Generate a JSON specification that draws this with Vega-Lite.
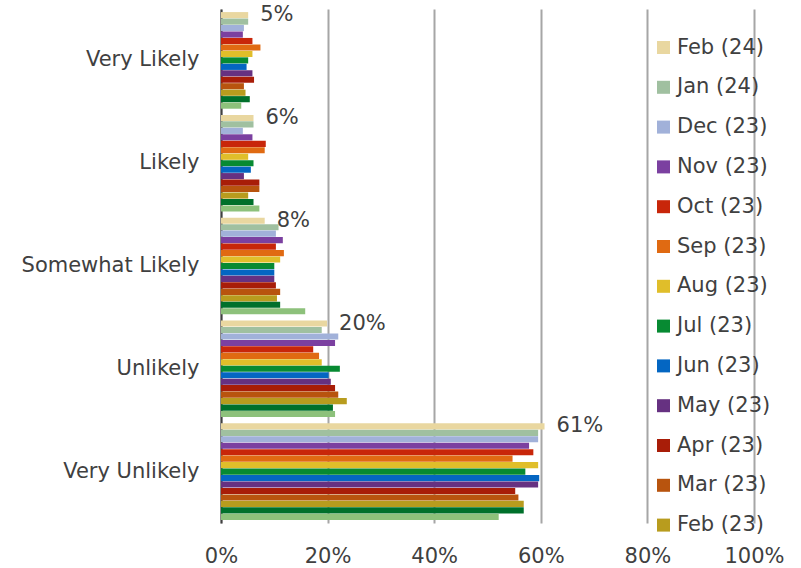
{
  "$schema": "https://vega.github.io/schema/vega-lite/v6.json",
  "autosize": {"type": "none"},
  "padding": {"left": 221, "top": 9, "right": 47, "bottom": 45},
  "width": 533,
  "height": 514,
  "background": "white",
  "config": {
    "font": "DejaVu Sans",
    "view": {"stroke": null}
  },
  "data": {
    "values": [
      {"cat": "Very Likely", "month": "Feb (24)", "v": 0.051},
      {"cat": "Very Likely", "month": "Jan (24)", "v": 0.051},
      {"cat": "Very Likely", "month": "Dec (23)", "v": 0.043},
      {"cat": "Very Likely", "month": "Nov (23)", "v": 0.041},
      {"cat": "Very Likely", "month": "Oct (23)", "v": 0.059},
      {"cat": "Very Likely", "month": "Sep (23)", "v": 0.074},
      {"cat": "Very Likely", "month": "Aug (23)", "v": 0.059},
      {"cat": "Very Likely", "month": "Jul (23)", "v": 0.051},
      {"cat": "Very Likely", "month": "Jun (23)", "v": 0.048},
      {"cat": "Very Likely", "month": "May (23)", "v": 0.059},
      {"cat": "Very Likely", "month": "Apr (23)", "v": 0.062},
      {"cat": "Very Likely", "month": "Mar (23)", "v": 0.043},
      {"cat": "Very Likely", "month": "Feb (23)", "v": 0.046},
      {"cat": "Very Likely", "month": "Jan (23)", "v": 0.054},
      {"cat": "Very Likely", "month": "Dec (22)", "v": 0.038},
      {"cat": "Likely", "month": "Feb (24)", "v": 0.061},
      {"cat": "Likely", "month": "Jan (24)", "v": 0.061},
      {"cat": "Likely", "month": "Dec (23)", "v": 0.041},
      {"cat": "Likely", "month": "Nov (23)", "v": 0.059},
      {"cat": "Likely", "month": "Oct (23)", "v": 0.084},
      {"cat": "Likely", "month": "Sep (23)", "v": 0.082},
      {"cat": "Likely", "month": "Aug (23)", "v": 0.051},
      {"cat": "Likely", "month": "Jul (23)", "v": 0.061},
      {"cat": "Likely", "month": "Jun (23)", "v": 0.056},
      {"cat": "Likely", "month": "May (23)", "v": 0.043},
      {"cat": "Likely", "month": "Apr (23)", "v": 0.072},
      {"cat": "Likely", "month": "Mar (23)", "v": 0.072},
      {"cat": "Likely", "month": "Feb (23)", "v": 0.051},
      {"cat": "Likely", "month": "Jan (23)", "v": 0.061},
      {"cat": "Likely", "month": "Dec (22)", "v": 0.072},
      {"cat": "Somewhat Likely", "month": "Feb (24)", "v": 0.082},
      {"cat": "Somewhat Likely", "month": "Jan (24)", "v": 0.108},
      {"cat": "Somewhat Likely", "month": "Dec (23)", "v": 0.103},
      {"cat": "Somewhat Likely", "month": "Nov (23)", "v": 0.116},
      {"cat": "Somewhat Likely", "month": "Oct (23)", "v": 0.103},
      {"cat": "Somewhat Likely", "month": "Sep (23)", "v": 0.118},
      {"cat": "Somewhat Likely", "month": "Aug (23)", "v": 0.111},
      {"cat": "Somewhat Likely", "month": "Jul (23)", "v": 0.100},
      {"cat": "Somewhat Likely", "month": "Jun (23)", "v": 0.100},
      {"cat": "Somewhat Likely", "month": "May (23)", "v": 0.100},
      {"cat": "Somewhat Likely", "month": "Apr (23)", "v": 0.103},
      {"cat": "Somewhat Likely", "month": "Mar (23)", "v": 0.111},
      {"cat": "Somewhat Likely", "month": "Feb (23)", "v": 0.105},
      {"cat": "Somewhat Likely", "month": "Jan (23)", "v": 0.111},
      {"cat": "Somewhat Likely", "month": "Dec (22)", "v": 0.158},
      {"cat": "Unlikely", "month": "Feb (24)", "v": 0.199},
      {"cat": "Unlikely", "month": "Jan (24)", "v": 0.189},
      {"cat": "Unlikely", "month": "Dec (23)", "v": 0.220},
      {"cat": "Unlikely", "month": "Nov (23)", "v": 0.214},
      {"cat": "Unlikely", "month": "Oct (23)", "v": 0.173},
      {"cat": "Unlikely", "month": "Sep (23)", "v": 0.184},
      {"cat": "Unlikely", "month": "Aug (23)", "v": 0.189},
      {"cat": "Unlikely", "month": "Jul (23)", "v": 0.223},
      {"cat": "Unlikely", "month": "Jun (23)", "v": 0.202},
      {"cat": "Unlikely", "month": "May (23)", "v": 0.206},
      {"cat": "Unlikely", "month": "Apr (23)", "v": 0.214},
      {"cat": "Unlikely", "month": "Mar (23)", "v": 0.220},
      {"cat": "Unlikely", "month": "Feb (23)", "v": 0.236},
      {"cat": "Unlikely", "month": "Jan (23)", "v": 0.210},
      {"cat": "Unlikely", "month": "Dec (22)", "v": 0.214},
      {"cat": "Very Unlikely", "month": "Feb (24)", "v": 0.607},
      {"cat": "Very Unlikely", "month": "Jan (24)", "v": 0.595},
      {"cat": "Very Unlikely", "month": "Dec (23)", "v": 0.595},
      {"cat": "Very Unlikely", "month": "Nov (23)", "v": 0.578},
      {"cat": "Very Unlikely", "month": "Oct (23)", "v": 0.586},
      {"cat": "Very Unlikely", "month": "Sep (23)", "v": 0.547},
      {"cat": "Very Unlikely", "month": "Aug (23)", "v": 0.595},
      {"cat": "Very Unlikely", "month": "Jul (23)", "v": 0.571},
      {"cat": "Very Unlikely", "month": "Jun (23)", "v": 0.597},
      {"cat": "Very Unlikely", "month": "May (23)", "v": 0.595},
      {"cat": "Very Unlikely", "month": "Apr (23)", "v": 0.552},
      {"cat": "Very Unlikely", "month": "Mar (23)", "v": 0.558},
      {"cat": "Very Unlikely", "month": "Feb (23)", "v": 0.568},
      {"cat": "Very Unlikely", "month": "Jan (23)", "v": 0.568},
      {"cat": "Very Unlikely", "month": "Dec (22)", "v": 0.521}
    ]
  },
  "encoding": {
    "y": {
      "field": "cat",
      "type": "nominal",
      "sort": ["Very Likely", "Likely", "Somewhat Likely", "Unlikely", "Very Unlikely"],
      "scale": {"paddingInner": 0.06, "paddingOuter": 0.03},
      "axis": {
        "title": null,
        "ticks": false,
        "labelFontSize": 21,
        "labelColor": "#404040",
        "labelPadding": 22,
        "domainColor": "#404040",
        "domainWidth": 2,
        "grid": false
      }
    },
    "yOffset": {
      "field": "month",
      "type": "nominal",
      "sort": ["Feb (24)", "Jan (24)", "Dec (23)", "Nov (23)", "Oct (23)", "Sep (23)", "Aug (23)", "Jul (23)", "Jun (23)", "May (23)", "Apr (23)", "Mar (23)", "Feb (23)", "Jan (23)", "Dec (22)"],
      "scale": {"paddingInner": 0.05, "paddingOuter": 0}
    },
    "x": {
      "field": "v",
      "type": "quantitative",
      "scale": {"domain": [0, 1], "nice": false},
      "axis": {
        "title": null,
        "format": ".0%",
        "values": [0, 0.2, 0.4, 0.6, 0.8, 1],
        "ticks": false,
        "domain": false,
        "grid": true,
        "gridColor": "#a6a6a6",
        "gridWidth": 2,
        "labelFontSize": 21,
        "labelColor": "#404040",
        "labelPadding": 22,
        "labelFlush": false
      }
    }
  },
  "layer": [
    {
      "mark": {"type": "bar"},
      "encoding": {
        "color": {
          "field": "month",
          "type": "nominal",
          "scale": {
            "domain": ["Feb (24)", "Jan (24)", "Dec (23)", "Nov (23)", "Oct (23)", "Sep (23)", "Aug (23)", "Jul (23)", "Jun (23)", "May (23)", "Apr (23)", "Mar (23)", "Feb (23)", "Jan (23)", "Dec (22)"],
            "range": ["#e9d7a0", "#a0c0a0", "#a1b1d9", "#7b40a0", "#c8260a", "#e06a12", "#e0be2a", "#078a32", "#0466c2", "#663181", "#a81d08", "#b8540e", "#b89c1e", "#00702b", "#8dc17b"]
          },
          "legend": {
            "orient": "none",
            "legendX": 432,
            "legendY": 28,
            "title": null,
            "values": ["Feb (24)", "Jan (24)", "Dec (23)", "Nov (23)", "Oct (23)", "Sep (23)", "Aug (23)", "Jul (23)", "Jun (23)", "May (23)", "Apr (23)", "Mar (23)", "Feb (23)"],
            "symbolType": "square",
            "symbolSize": 169,
            "symbolStrokeWidth": 0,
            "labelFontSize": 21,
            "labelColor": "#404040",
            "labelOffset": 3,
            "rowPadding": 17.8,
            "padding": 0,
            "labelLimit": 200
          }
        }
      }
    },
    {
      "transform": [{"filter": "datum.month === 'Feb (24)'"}],
      "mark": {"type": "text", "align": "left", "baseline": "middle", "dx": 12, "fontSize": 21, "color": "#404040"},
      "encoding": {
        "text": {"field": "v", "type": "quantitative", "format": ".0%"}
      }
    }
  ]
}
